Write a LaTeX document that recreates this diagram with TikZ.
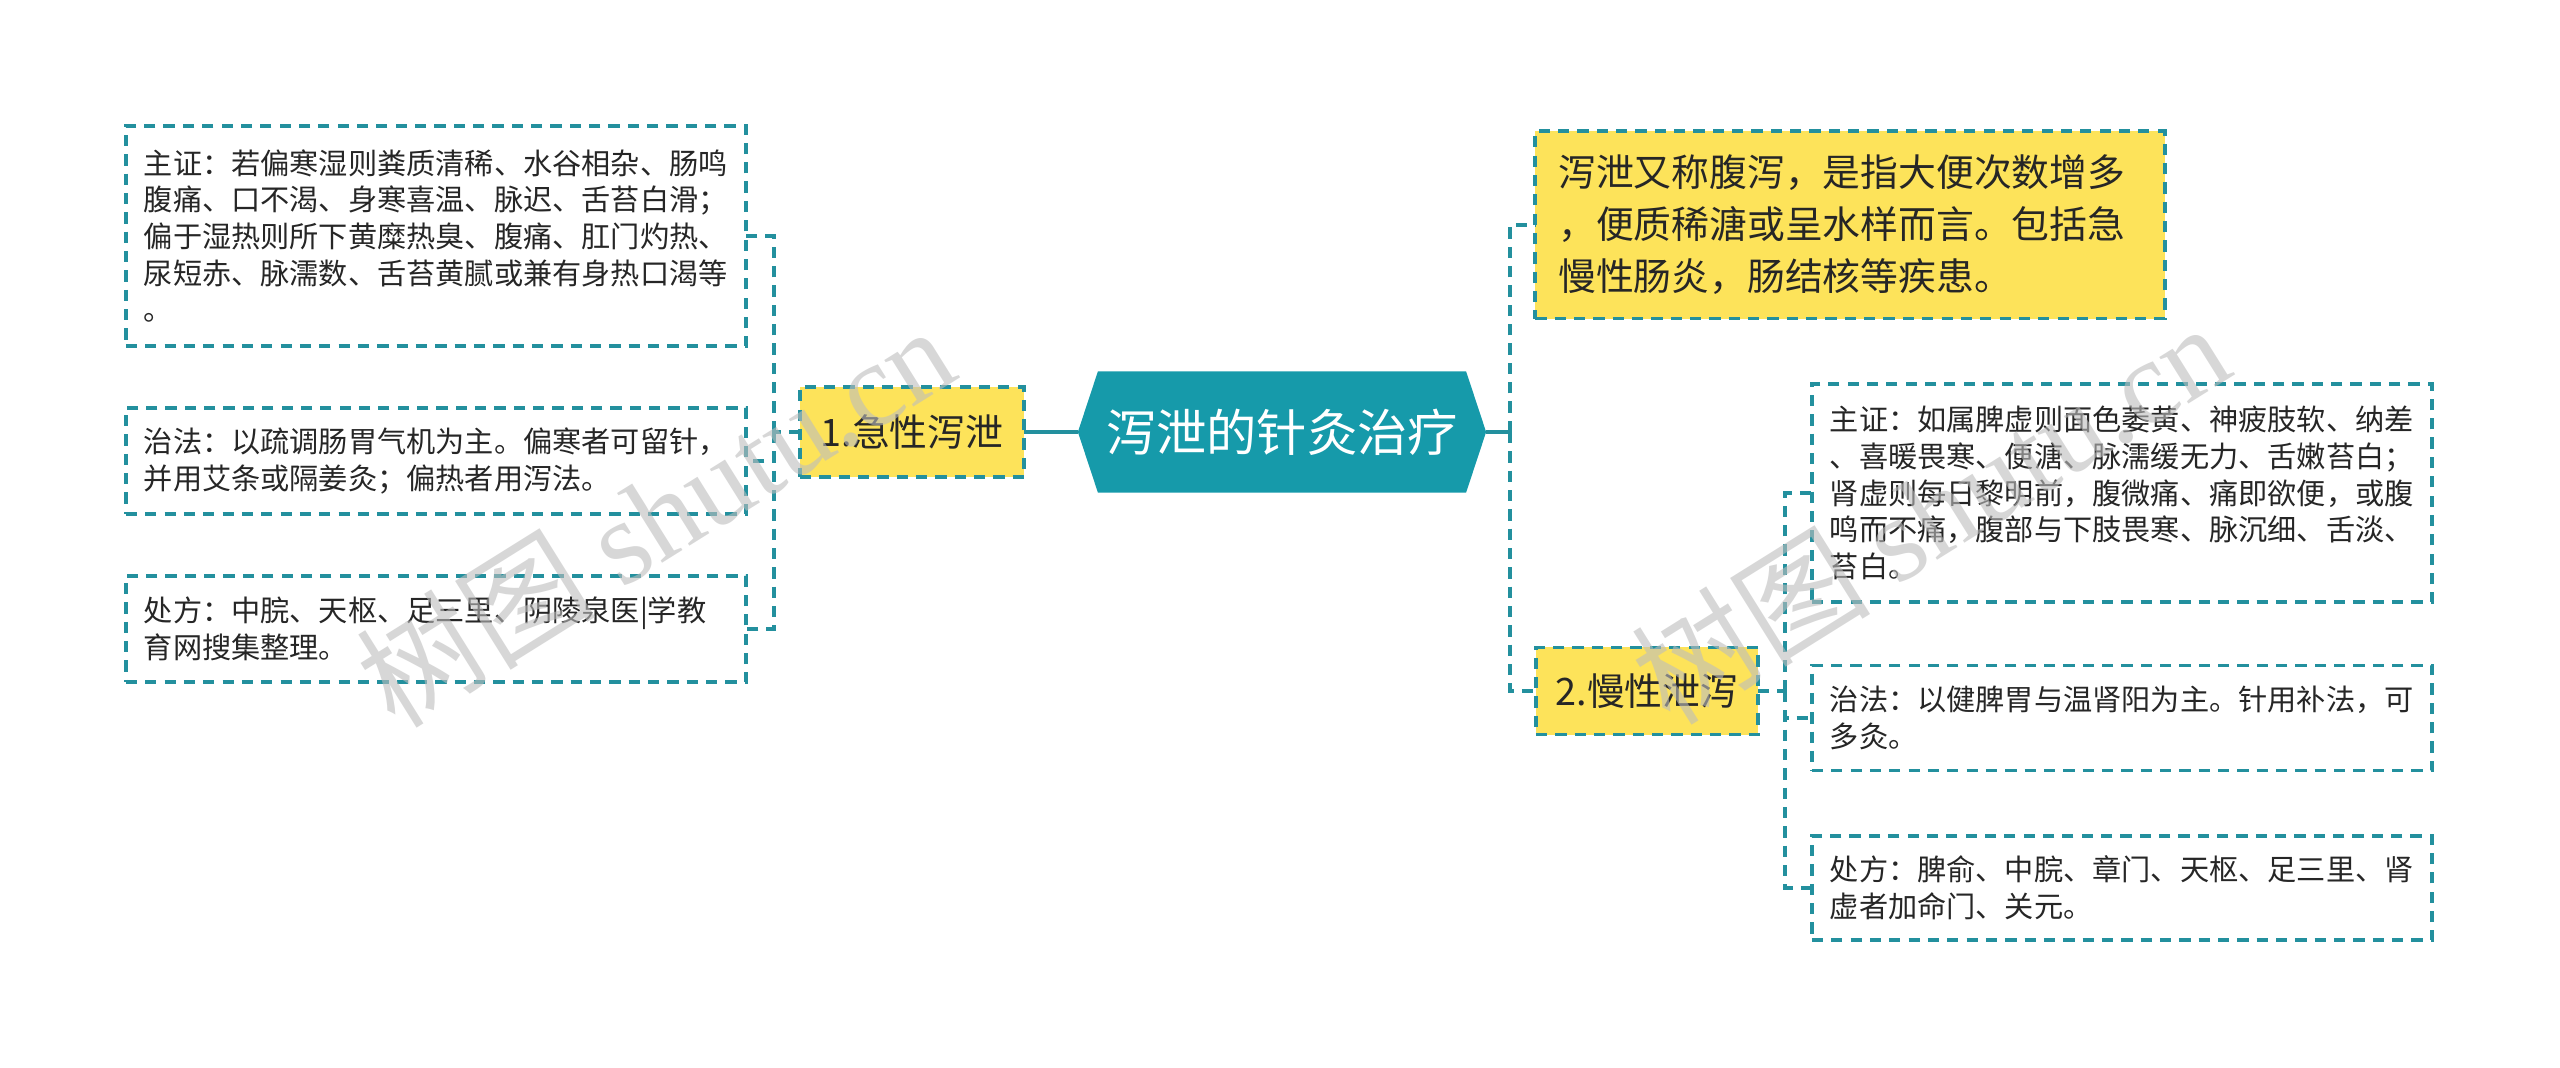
\documentclass[tikz,border=0pt]{standalone}
\usepackage{fontspec}
\setmainfont{Noto Sans CJK SC}
\newfontfamily\wmlatin{Liberation Serif}
\usetikzlibrary{calc,backgrounds}
\definecolor{rootteal}{HTML}{169AAA}
\definecolor{lineteal}{HTML}{23909E}
\definecolor{notebg}{HTML}{FDE35A}
\definecolor{ink}{HTML}{262626}
\definecolor{wmgray}{HTML}{BDBDBD}

\begin{document}
\begin{tikzpicture}[x=0.01cm,y=-0.01cm,outer sep=0pt,
    link/.style={draw=lineteal,line width=1.4pt},
    dlink/.style={draw=lineteal,line width=1.1pt,dash pattern=on 3.2pt off 2.3pt},
    leaf/.style={dlink,fill=white,text=ink,align=left,text width=5.84cm,
      inner xsep=0.18cm,inner ysep=0.08cm,font=\fontsize{8.3pt}{10.44pt}\selectfont},
    topic/.style={dlink,fill=notebg,text=ink,font=\fontsize{10.75pt}{14.8pt}\selectfont},
    rootbox/.style={minimum width=4.08cm,minimum height=1.21cm,text=white,
      font=\fontsize{14.3pt}{16pt}\selectfont},
    wmark/.style={text=wmgray,opacity=.6,rotate=32,font=\fontsize{34pt}{34pt}\selectfont}]
    \useasboundingbox (0,0) rectangle (2560,1068);

    % centre
    \node[rootbox] (root) at (1282,432) {泻泄的针灸治疗};
    \begin{scope}[on background layer]
        \fill[rootteal] (root.west) -- ($(root.north west)+(20,0)$) -- ($(root.north east)+(-20,0)$)
            -- (root.east) -- ($(root.south east)+(-20,0)$) -- ($(root.south west)+(20,0)$) -- cycle;
    \end{scope}

    % left branch
    \node[topic,minimum width=2.24cm,minimum height=0.90cm] (acute) at (912,432) {1.急性泻泄};
    \node[leaf,minimum height=2.20cm] (a1) at (436,236) {主证：若偏寒湿则粪质清稀、水谷相杂、肠鸣\\腹痛、口不渴、身寒喜温、脉迟、舌苔白滑；\\偏于湿热则所下黄糜热臭、腹痛、肛门灼热、\\尿短赤、脉濡数、舌苔黄腻或兼有身热口渴等\\。};
    \node[leaf,minimum height=1.06cm] (a2) at (436,461) {治法：以疏调肠胃气机为主。偏寒者可留针，\\并用艾条或隔姜灸；偏热者用泻法。};
    \node[leaf,minimum height=1.06cm] (a3) at (436,629) {处方：中脘、天枢、足三里、阴陵泉医|学教\\育网搜集整理。};
    \coordinate (lb) at (774,432);

    % right branch
    \node[topic,align=left,text width=5.83cm,inner xsep=0.23cm,minimum height=1.87cm] (intro) at (1850,225) {泻泄又称腹泻，是指大便次数增多\\，便质稀溏或呈水样而言。包括急\\慢性肠炎，肠结核等疾患。};
    \node[topic,minimum width=2.22cm,minimum height=0.87cm] (chronic) at (1647,691) {2.慢性泄泻};
    \node[leaf,minimum height=2.18cm] (c1) at (2122,493) {主证：如属脾虚则面色萎黄、神疲肢软、纳差\\、喜暖畏寒、便溏、脉濡缓无力、舌嫩苔白；\\肾虚则每日黎明前，腹微痛、痛即欲便，或腹\\鸣而不痛，腹部与下肢畏寒、脉沉细、舌淡、\\苔白。};
    \node[leaf,minimum height=1.05cm] (c2) at (2122,718) {治法：以健脾胃与温肾阳为主。针用补法，可\\多灸。};
    \node[leaf,minimum height=1.04cm] (c3) at (2122,888) {处方：脾俞、中脘、章门、天枢、足三里、肾\\虚者加命门、关元。};
    \coordinate (rb) at (1510,432);
    \coordinate (rb2) at (1785,691);

    % connectors
    \draw[link] (root.west) -- (acute.east);
    \draw[dlink] (acute.west) -- (lb);
    \draw[dlink] (lb) |- (a1.east);
    \draw[dlink] (lb) |- (a2.east);
    \draw[dlink] (lb) |- (a3.east);
    \draw[link] (root.east) -- (rb);
    \draw[dlink] (rb) |- (intro.west);
    \draw[dlink] (rb) |- (chronic.west);
    \draw[dlink] (chronic.east) -- (rb2);
    \draw[dlink] (rb2) |- (c1.west);
    \draw[dlink] (rb2) |- (c2.west);
    \draw[dlink] (rb2) |- (c3.west);

    % watermarks
    \node[wmark] (wm1) at (655,515) {树图 {\wmlatin shutu.cn}};
    \node[wmark] (wm2) at (1930,512) {树图 {\wmlatin shutu.cn}};
\end{tikzpicture}
\end{document}
